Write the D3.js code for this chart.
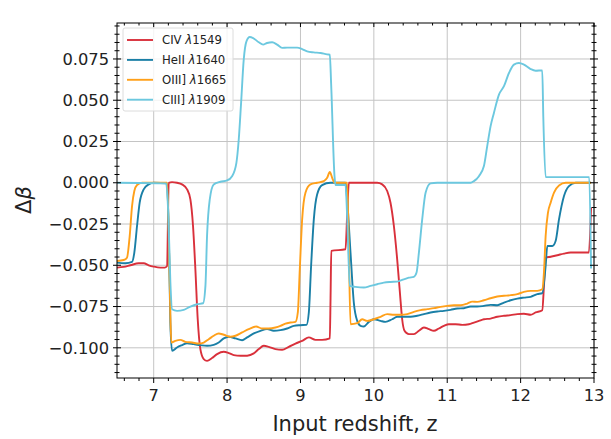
<!DOCTYPE html>
<html>
<head>
<meta charset="utf-8">
<script src="https://cdn.jsdelivr.net/npm/d3@7"></script>
<style>
  body { margin: 0; background: #fff; }
  svg { font-family: "DejaVu Sans", sans-serif; }
</style>
</head>
<body>
<svg id="chart" width="611" height="439"></svg>
<script>
// series: [redshift z, delta beta]
const civ = [[6.5,-0.0514],[6.591,-0.051],[6.682,-0.05],[6.795,-0.0488],[6.864,-0.0488],[6.932,-0.05],[7.0,-0.0508],[7.091,-0.0514],[7.15,-0.0514],[7.182,-0.0504],[7.205,0],[7.25,0.0004],[7.318,0],[7.386,-0.001],[7.455,-0.004],[7.5,-0.0101],[7.536,-0.0262],[7.568,-0.0524],[7.6,-0.0827],[7.636,-0.1008],[7.682,-0.1068],[7.727,-0.1079],[7.795,-0.1062],[7.864,-0.1038],[7.955,-0.1024],[8.023,-0.1032],[8.091,-0.1044],[8.182,-0.1048],[8.273,-0.1048],[8.364,-0.1034],[8.432,-0.1008],[8.5,-0.0988],[8.568,-0.0994],[8.659,-0.1008],[8.75,-0.1012],[8.841,-0.0994],[8.932,-0.0974],[9.023,-0.0958],[9.114,-0.0937],[9.205,-0.0952],[9.295,-0.0952],[9.4,-0.0943],[9.41,-0.07],[9.42,-0.0413],[9.614,-0.0403],[9.636,-0.02],[9.66,0],[10.045,0],[10.114,-0.001],[10.182,-0.005],[10.227,-0.0121],[10.273,-0.0262],[10.318,-0.0464],[10.355,-0.0665],[10.386,-0.0827],[10.418,-0.0897],[10.477,-0.0917],[10.545,-0.0917],[10.614,-0.0897],[10.682,-0.0877],[10.75,-0.0887],[10.818,-0.0897],[10.886,-0.0883],[10.955,-0.0867],[11.023,-0.0857],[11.114,-0.0857],[11.205,-0.0861],[11.295,-0.0857],[11.364,-0.0847],[11.432,-0.0837],[11.5,-0.0827],[11.591,-0.0823],[11.682,-0.0812],[11.773,-0.0806],[11.864,-0.0802],[11.955,-0.0796],[12.045,-0.0794],[12.136,-0.08],[12.205,-0.0786],[12.295,-0.0772],[12.318,-0.0625],[12.341,-0.0454],[12.409,-0.0448],[12.5,-0.0439],[12.591,-0.0429],[12.682,-0.0423],[12.93,-0.0423],[12.96,-0.0151]];

const heii = [[6.5,-0.0484],[6.614,-0.0488],[6.705,-0.048],[6.736,-0.0423],[6.773,-0.0262],[6.809,-0.0121],[6.864,-0.004],[6.932,-0.001],[7.0,0],[7.182,-0.0004],[7.205,-0.03],[7.227,-0.085],[7.25,-0.1018],[7.318,-0.0998],[7.386,-0.0984],[7.455,-0.0972],[7.545,-0.0978],[7.636,-0.0984],[7.727,-0.0988],[7.818,-0.0982],[7.886,-0.0968],[7.955,-0.0943],[8.023,-0.0933],[8.114,-0.0943],[8.205,-0.0954],[8.273,-0.0937],[8.364,-0.0913],[8.455,-0.0897],[8.545,-0.0887],[8.636,-0.0897],[8.727,-0.0893],[8.818,-0.0883],[8.909,-0.0867],[9.0,-0.0863],[9.082,-0.0861],[9.114,-0.0786],[9.145,-0.0504],[9.182,-0.0222],[9.227,-0.0071],[9.295,-0.0014],[9.409,0],[9.614,0],[9.636,-0.01],[9.682,-0.0423],[9.727,-0.0726],[9.773,-0.0837],[9.818,-0.0867],[9.864,-0.0871],[9.932,-0.0843],[10.0,-0.0827],[10.091,-0.0837],[10.159,-0.0843],[10.25,-0.0827],[10.318,-0.0812],[10.409,-0.0812],[10.5,-0.0812],[10.591,-0.0806],[10.682,-0.0796],[10.773,-0.0786],[10.864,-0.078],[10.955,-0.0776],[11.045,-0.077],[11.136,-0.0762],[11.227,-0.076],[11.318,-0.075],[11.409,-0.075],[11.5,-0.0746],[11.591,-0.074],[11.682,-0.0742],[11.773,-0.0726],[11.864,-0.0712],[11.955,-0.0702],[12.045,-0.0696],[12.136,-0.0691],[12.227,-0.0675],[12.295,-0.0669],[12.341,-0.0504],[12.364,-0.0383],[12.432,-0.0383],[12.477,-0.0353],[12.523,-0.0222],[12.591,-0.008],[12.659,-0.002],[12.75,0],[12.96,0]];

const oiii = [[6.5,-0.0474],[6.591,-0.0468],[6.636,-0.0454],[6.673,-0.0323],[6.705,-0.0141],[6.736,-0.005],[6.773,-0.0014],[6.841,0],[7.182,0],[7.205,-0.03],[7.227,-0.08],[7.241,-0.0968],[7.295,-0.0958],[7.364,-0.0952],[7.432,-0.0964],[7.523,-0.0968],[7.614,-0.0974],[7.682,-0.0968],[7.75,-0.0948],[7.818,-0.0927],[7.886,-0.0913],[7.955,-0.0921],[8.045,-0.0933],[8.114,-0.0927],[8.205,-0.0907],[8.295,-0.0887],[8.395,-0.0871],[8.477,-0.0883],[8.568,-0.0883],[8.659,-0.0877],[8.727,-0.0867],[8.795,-0.0853],[8.864,-0.0847],[8.932,-0.0843],[8.964,-0.0786],[8.991,-0.0524],[9.023,-0.0222],[9.068,-0.006],[9.136,-0.001],[9.227,0],[9.318,0.001],[9.364,0.003],[9.4,0.0065],[9.432,0.003],[9.464,0],[9.636,0],[9.659,-0.04],[9.682,-0.0857],[9.773,-0.0851],[9.841,-0.0827],[9.909,-0.0837],[10.0,-0.0827],[10.091,-0.0812],[10.182,-0.0796],[10.273,-0.08],[10.364,-0.08],[10.455,-0.0796],[10.545,-0.0782],[10.636,-0.0772],[10.727,-0.0766],[10.818,-0.076],[10.909,-0.0752],[11.0,-0.0746],[11.091,-0.0742],[11.182,-0.0742],[11.273,-0.0732],[11.341,-0.072],[11.409,-0.0722],[11.5,-0.0712],[11.591,-0.07],[11.682,-0.0689],[11.773,-0.0685],[11.864,-0.0681],[11.955,-0.0675],[12.045,-0.0661],[12.136,-0.0655],[12.227,-0.0655],[12.295,-0.0645],[12.318,-0.0544],[12.341,-0.0323],[12.373,-0.0181],[12.409,-0.0121],[12.455,-0.006],[12.523,-0.0016],[12.614,0],[12.96,0]];

const ciii = [[6.5,0],[7.17,-0.0004],[7.2,-0.02],[7.227,-0.06],[7.25,-0.0766],[7.318,-0.0776],[7.409,-0.077],[7.5,-0.075],[7.591,-0.0736],[7.673,-0.073],[7.705,-0.0625],[7.727,-0.0323],[7.764,-0.0101],[7.818,-0.001],[7.909,0.0006],[8.0,0.0014],[8.068,0.004],[8.127,0.0121],[8.159,0.0262],[8.191,0.0484],[8.227,0.0746],[8.264,0.0857],[8.309,0.0883],[8.355,0.0877],[8.432,0.0851],[8.491,0.0837],[8.545,0.0847],[8.614,0.0851],[8.682,0.0837],[8.75,0.0817],[8.818,0.0819],[8.886,0.0819],[8.955,0.0819],[9.023,0.081],[9.091,0.0796],[9.182,0.079],[9.273,0.0786],[9.364,0.0778],[9.4,0.0776],[9.418,0.06],[9.464,0.004],[9.477,-0.0014],[9.614,-0.0014],[9.636,-0.02],[9.673,-0.0625],[9.75,-0.0631],[9.864,-0.0635],[9.955,-0.0625],[10.045,-0.0615],[10.136,-0.0605],[10.227,-0.0601],[10.318,-0.0599],[10.409,-0.0585],[10.477,-0.0575],[10.545,-0.057],[10.582,-0.0544],[10.614,-0.0423],[10.659,-0.0222],[10.705,-0.006],[10.773,-0.0004],[10.864,0],[11.318,0],[11.364,0.001],[11.432,0.004],[11.5,0.0101],[11.545,0.0222],[11.591,0.0343],[11.636,0.0423],[11.705,0.0534],[11.773,0.0585],[11.841,0.0665],[11.909,0.0716],[11.977,0.0726],[12.045,0.0716],[12.136,0.0689],[12.205,0.0679],[12.295,0.0681],[12.309,0.04],[12.341,0.0034],[12.935,0.0034],[12.96,-0.052]];

const seriesNames = ["CIV", "HeII", "OIII]", "CIII]"];
const seriesWaves = ["1549", "1640", "1665", "1909"];
const seriesColors = ["#d9303b", "#1a7fa6", "#ffa01a", "#6cc8df"];
const xTicks = [7, 8, 9, 10, 11, 12, 13];
const yTicks = [-0.1, -0.075, -0.05, -0.025, 0, 0.025, 0.05, 0.075];

const graphicopt = {
    margin: {top: 23, right: 17, bottom: 61, left: 117},
    width: 611,
    height: 439,
    widthG: function(){return this.width-this.margin.left-this.margin.right},
    heightG: function(){return this.height-this.margin.top-this.margin.bottom}
};

let svg = d3.select('#chart');
let g = svg.append('g')
    .attr('transform', 'translate('+graphicopt.margin.left+','+graphicopt.margin.top+')');
let W = graphicopt.widthG(), H = graphicopt.heightG();

let x = d3.scaleLinear().domain([6.5, 13]).range([0, W]);
let y = d3.scaleLinear().domain([-0.1183, 0.0968]).range([H, 0]);

// grid
g.append('g').selectAll('line').data(xTicks).join('line')
    .attr('x1', d => x(d)).attr('x2', d => x(d))
    .attr('y1', 0).attr('y2', H)
    .attr('stroke', '#c4c4c4').attr('stroke-width', 1);
g.append('g').selectAll('line').data(yTicks).join('line')
    .attr('y1', d => y(d)).attr('y2', d => y(d))
    .attr('x1', 0).attr('x2', W)
    .attr('stroke', '#c4c4c4').attr('stroke-width', 1);

// lines
let line = d3.line()
    .x(d => x(d[0]))
    .y(d => y(d[1]))
    .curve(d3.curveMonotoneX);
let allSeries = [civ, heii, oiii, ciii];
g.append('g').selectAll('path').data(allSeries).join('path')
    .attr('d', d => line(d))
    .attr('fill', 'none')
    .attr('stroke', (d, i) => seriesColors[i])
    .attr('stroke-width', 1.9)
    .attr('stroke-linejoin', 'round');

// axes: major + minor ticks on all four sides
let xMinor = d3.range(6.6, 13.001, 0.2).filter(v => Math.abs(v - Math.round(v)) > 0.01);
let yMinor = d3.range(-0.115, 0.0966, 0.005).filter(v => Math.abs(v/0.025 - Math.round(v/0.025)) > 0.01);

function ticksFor(sel, vals, horiz, pos, lenOut, lenIn, dirOut) {
    sel.selectAll(null).data(vals).enter().append('line')
        .attr('stroke', '#000').attr('stroke-width', 1)
        .each(function(d){
            let s = d3.select(this);
            if (horiz) {
                s.attr('x1', x(d)).attr('x2', x(d))
                 .attr('y1', pos + dirOut*lenOut).attr('y2', pos - dirOut*lenIn);
            } else {
                s.attr('y1', y(d)).attr('y2', y(d))
                 .attr('x1', pos + dirOut*lenOut).attr('x2', pos - dirOut*lenIn);
            }
        });
}
let ax = g.append('g');
ticksFor(ax, xTicks, true, H, 5, 0, 1);
ticksFor(ax, xMinor, true, H, 3, 0, 1);
ticksFor(ax, xTicks, true, 0, 0, 4, -1);
ticksFor(ax, xMinor, true, 0, 0, 2.5, -1);
ticksFor(ax, yTicks, false, 0, 4, 4, -1);
ticksFor(ax, yMinor, false, 0, 2.5, 2.5, -1);
ticksFor(ax, yTicks, false, W, 4, 4, 1);
ticksFor(ax, yMinor, false, W, 2.5, 2.5, 1);

g.append('rect').attr('width', W).attr('height', H)
    .attr('fill', 'none').attr('stroke', '#000').attr('stroke-width', 1);

let fmt = d3.format('.3f');
g.append('g').selectAll('text').data(yTicks).join('text')
    .attr('x', -8).attr('y', d => y(d)).attr('dy', '0.35em')
    .attr('text-anchor', 'end').attr('font-size', 16.3).attr('fill', '#222')
    .text(d => fmt(d).replace('-', '\u2212'));
g.append('g').selectAll('text').data(xTicks).join('text')
    .attr('x', d => x(d)).attr('y', H + 23)
    .attr('text-anchor', 'middle').attr('font-size', 16.3).attr('fill', '#222')
    .text(d => d);

svg.append('text')
    .attr('x', graphicopt.margin.left + W/2 - 0.5).attr('y', 431)
    .attr('text-anchor', 'middle').attr('font-size', 21).attr('fill', '#222')
    .text('Input redshift, z');
svg.append('text')
    .attr('transform', 'translate(31,200) rotate(-90)')
    .attr('text-anchor', 'middle').attr('font-size', 21).attr('fill', '#222')
    .html('\u0394<tspan font-style="italic">\u03b2</tspan>');

// legend
let lg = g.append('g').attr('transform', 'translate(6,5)');
lg.append('rect').attr('width', 110).attr('height', 83).attr('rx', 2)
    .attr('fill', '#fff').attr('fill-opacity', 0.8)
    .attr('stroke', '#dcdcdc').attr('stroke-width', 1);
let items = lg.selectAll('g.item').data(seriesNames).join('g')
    .attr('class', 'item')
    .attr('transform', (d, i) => 'translate(0,' + (12 + i*19.9) + ')');
items.append('line')
    .attr('x1', 4).attr('x2', 30)
    .attr('stroke', (d, i) => seriesColors[i]).attr('stroke-width', 1.9);
items.append('text')
    .attr('x', 39).attr('dy', '0.35em')
    .attr('font-size', 11.7).attr('fill', '#222')
    .html((d, i) => d + ' <tspan font-style="italic">\u03bb</tspan>' + seriesWaves[i]);
</script>
</body>
</html>
